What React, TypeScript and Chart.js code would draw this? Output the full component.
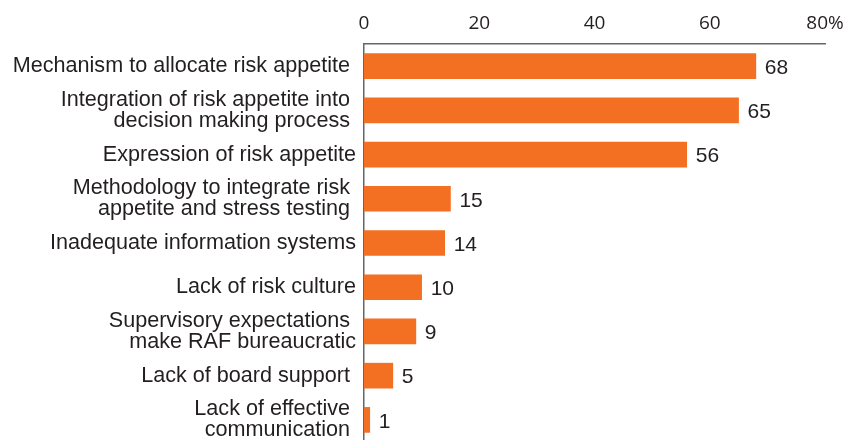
import { useEffect, useRef } from "react";
import { Chart, registerables } from "chart.js";

Chart.register(...registerables);

const categories: (string | string[])[] = [
  "Mechanism to allocate risk appetite ",
  ["Integration of risk appetite into ", "decision making process "],
  "Expression of risk appetite",
  ["Methodology to integrate risk ", "appetite and stress testing "],
  "Inadequate information systems",
  "Lack of risk culture",
  ["Supervisory expectations ", "make RAF bureaucratic"],
  "Lack of board support ",
  ["Lack of effective ", "communication "],
];
const values = [68, 65, 56, 15, 14, 10, 9, 5, 1];
const tickValues = [0, 20, 40, 60, 80];
const tickLabels = ["0", "20", "40", "60", "80%"];

const ORANGE = "#F36F21";
const TEXT = "#231F20";

const valueLabels = {
  id: "valueLabels",
  afterDatasetsDraw(chart: any) {
    const ctx = chart.ctx;
    const meta = chart.getDatasetMeta(0);
    ctx.save();
    ctx.font = '21px "Liberation Sans", Arial, sans-serif';
    ctx.fillStyle = TEXT;
    ctx.textAlign = "left";
    ctx.textBaseline = "middle";
    meta.data.forEach((el: any, i: number) => {
      ctx.fillText(String(values[i]), el.x + 9, el.y + 2);
    });
    ctx.restore();
  },
};

export default function App() {
  const ref = useRef<HTMLCanvasElement>(null);
  useEffect(() => {
    if (!ref.current) return;
    const chart = new Chart(ref.current, {
      type: "bar",
      data: {
        labels: categories as any,
        datasets: [
          {
            data: values,
            backgroundColor: ORANGE,
            borderWidth: 0,
            barThickness: 25,
          },
        ],
      },
      options: {
        indexAxis: "y",
        responsive: false,
        animation: false,
        devicePixelRatio: 1,
        layout: { padding: { left: 0, right: 22, top: 0, bottom: 0 } },
        plugins: { legend: { display: false }, tooltip: { enabled: false } },
        scales: {
          x: {
            position: "top",
            min: 0,
            max: 80,
            afterBuildTicks: (scale: any) => {
              scale.ticks = tickValues.map((v) => ({ value: v }));
            },
            afterFit: (scale: any) => {
              scale.height = 44;
              scale.paddingLeft = 0;
              scale.paddingRight = 0;
            },
            grid: { display: false, drawTicks: false },
            border: { display: true, color: "#666", width: 1.5 },
            ticks: {
              padding: 9,
              color: TEXT,
              font: { family: '"Open Sans", sans-serif', size: 19 },
              maxRotation: 0,
              autoSkip: false,
              callback: (v: any) => tickLabels[tickValues.indexOf(Number(v))] ?? String(v),
            },
          },
          y: {
            afterFit: (scale: any) => {
              scale.width = 364;
              scale.paddingTop = 0;
              scale.paddingBottom = 0;
            },
            grid: { display: false, drawTicks: false },
            border: { display: true, color: "#666", width: 1.5 },
            ticks: {
              padding: 8,
              color: TEXT,
              autoSkip: false,
              font: { family: '"Liberation Sans", Arial, sans-serif', size: 21.6, lineHeight: 0.98 },
            },
          },
        },
      },
      plugins: [valueLabels],
    });
    return () => chart.destroy();
  }, []);
  return (
    <div style={{ position: "fixed", left: 0, top: 0, width: 847, height: 442, background: "#fff" }}>
      <canvas ref={ref} width={847} height={442} style={{ width: 847, height: 442, display: "block" }} />
    </div>
  );
}
